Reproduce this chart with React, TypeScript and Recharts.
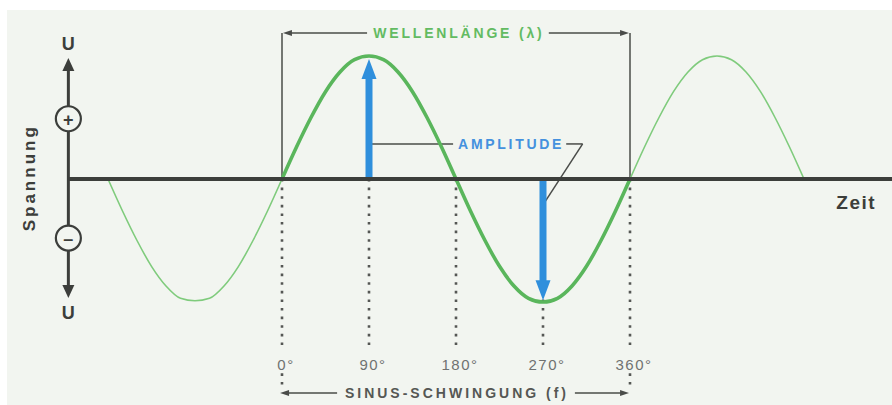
import { LineChart, Line, XAxis, YAxis, ReferenceLine, ReferenceDot } from "recharts";

// angle in degrees, one point every 15°
const angles = [
  -180, -165, -150, -135, -120, -105, -90, -75, -60, -45, -30, -15,
  0, 15, 30, 45, 60, 75, 90, 105, 120, 135, 150, 165,
  180, 195, 210, 225, 240, 255, 270, 285, 300, 315, 330, 345,
  360, 375, 390, 405, 420, 435, 450, 465, 480, 495, 510, 525, 540,
];

// the thick wave: one full period 0°..360°
const mainWave = [
  null, null, null, null, null, null, null, null, null, null, null, null,
  0, 0.26, 0.5, 0.71, 0.87, 0.97, 1, 0.97, 0.87, 0.71, 0.5, 0.26,
  0, -0.26, -0.5, -0.71, -0.87, -0.97, -1, -0.97, -0.87, -0.71, -0.5, -0.26,
  0, null, null, null, null, null, null, null, null, null, null, null, null,
];

// the thin half-waves before and after
const sideWave = [
  0, -0.26, -0.5, -0.71, -0.87, -0.97, -0.99, -0.97, -0.87, -0.71, -0.5, -0.26,
  0, null, null, null, null, null, null, null, null, null, null, null,
  null, null, null, null, null, null, null, null, null, null, null, null,
  0, 0.26, 0.5, 0.71, 0.87, 0.97, 1, 0.97, 0.87, 0.71, 0.5, 0.26, 0,
];

const tickAngles = [0, 90, 180, 270, 360];
const tickLabels = ["0°", "90°", "180°", "270°", "360°"];

const data = angles.map((angle, i) => ({ angle, main: mainWave[i], side: sideWave[i] }));

const FONT = '"Liberation Sans", Arial, sans-serif';
const DARK = "#3c3e3b";
const BLUE = "#2f8fdc";

// line with a filled arrow head at the end (and optionally at the start)
const arrow =
  (color: string, width: number, head: number, headW: number, both = false) =>
  (props: any) => {
    const { x1, y1, x2, y2 } = props;
    const dx = x2 - x1;
    const dy = y2 - y1;
    const len = Math.hypot(dx, dy) || 1;
    const ux = dx / len;
    const uy = dy / len;
    const px = -uy;
    const py = ux;
    const tri = (tx: number, ty: number, dx: number, dy: number) =>
      `${tx},${ty} ${tx - dx * head + (px * headW) / 2},${ty - dy * head + (py * headW) / 2} ${
        tx - dx * head - (px * headW) / 2
      },${ty - dy * head - (py * headW) / 2}`;
    const sx = both ? x1 + ux * head * 0.7 : x1;
    const sy = both ? y1 + uy * head * 0.7 : y1;
    return (
      <g>
        <line x1={sx} y1={sy} x2={x2 - ux * head * 0.7} y2={y2 - uy * head * 0.7} stroke={color} strokeWidth={width} />
        <polygon points={tri(x2, y2, ux, uy)} fill={color} />
        {both && <polygon points={tri(x1, y1, -ux, -uy)} fill={color} />}
      </g>
    );
  };

const text =
  (value: string, color: string, size: number, weight = 700, spacing = 0, rotate = 0) =>
  (p: any) =>
    (
      <text
        x={p.cx}
        y={p.cy}
        textAnchor="middle"
        dominantBaseline="central"
        fill={color}
        fontSize={size}
        fontWeight={weight}
        fontFamily={FONT}
        letterSpacing={spacing}
        transform={rotate ? `rotate(${rotate} ${p.cx} ${p.cy})` : undefined}
      >
        {value}
      </text>
    );

const sign = (s: string) => (p: any) =>
  (
    <g>
      <circle cx={p.cx} cy={p.cy} r={12.5} fill="#f2f5f0" stroke={DARK} strokeWidth={2.2} />
      <text x={p.cx} y={p.cy + 1} textAnchor="middle" dominantBaseline="central" fontSize={18} fontWeight={700} fontFamily={FONT} fill={DARK}>
        {s}
      </text>
    </g>
  );

const seg = (x1: number, y1: number, x2: number, y2: number) => [
  { x: x1, y: y1 },
  { x: x2, y: y2 },
];

const Chart = () => (
  <LineChart width={892} height={405} data={data} margin={{ top: 56, right: 88, bottom: 3, left: 108 }}>
    <XAxis
      dataKey="angle"
      type="number"
      domain={[-180, 540]}
      ticks={tickAngles}
      tickFormatter={(v) => tickLabels[tickAngles.indexOf(v)]}
      axisLine={false}
      tickLine={false}
      height={100}
      tickMargin={51}
      tick={{ fill: "#707270", fontSize: 15, fontFamily: FONT, dx: 4, letterSpacing: 1.5 }}
    />
    <YAxis type="number" domain={[-1, 1]} hide />

    {/* dotted drop lines */}
    {tickAngles.map((a) => (
      <ReferenceLine key={"d" + a} segment={seg(a, 0, a, -1.39)} ifOverflow="visible" stroke="#555754" strokeWidth={2.6} strokeDasharray="2.6 6" />
    ))}
    <ReferenceLine segment={seg(0, -1.58, 0, -1.68)} ifOverflow="visible" stroke="#555754" strokeWidth={2.6} strokeDasharray="2.6 6" />
    <ReferenceLine segment={seg(360, -1.58, 360, -1.68)} ifOverflow="visible" stroke="#555754" strokeWidth={2.6} strokeDasharray="2.6 6" />

    {/* wavelength bracket */}
    <ReferenceLine segment={seg(0, 0, 0, 1.187)} ifOverflow="visible" stroke="#4a4c49" strokeWidth={1.5} />
    <ReferenceLine segment={seg(360, 0, 360, 1.187)} ifOverflow="visible" stroke="#4a4c49" strokeWidth={1.5} />
    <ReferenceLine segment={seg(88, 1.187, 1, 1.187)} ifOverflow="visible" shape={arrow("#4a4c49", 1.5, 9, 6)} />
    <ReferenceLine segment={seg(276, 1.187, 359, 1.187)} ifOverflow="visible" shape={arrow("#4a4c49", 1.5, 9, 6)} />
    <ReferenceDot x={183} y={1.187} ifOverflow="visible" shape={text("WELLENLÄNGE (λ)", "#63bb62", 14, 700, 2.8)} />

    {/* period bracket */}
    <ReferenceLine segment={seg(57, -1.74, -2, -1.74)} ifOverflow="visible" shape={arrow("#4a4c49", 1.5, 9, 6)} />
    <ReferenceLine segment={seg(303, -1.74, 359, -1.74)} ifOverflow="visible" shape={arrow("#4a4c49", 1.5, 9, 6)} />
    <ReferenceDot x={181} y={-1.74} ifOverflow="visible" shape={text("SINUS-SCHWINGUNG (f)", "#555754", 14, 700, 3)} />

    {/* amplitude leaders */}
    <ReferenceLine segment={seg(90, 0.285, 177, 0.285)} ifOverflow="visible" stroke="#4a4c49" strokeWidth={1.5} />
    <ReferenceLine segment={seg(294, 0.285, 311, 0.285)} ifOverflow="visible" stroke="#4a4c49" strokeWidth={1.5} />
    <ReferenceLine segment={seg(311, 0.285, 270, -0.21)} ifOverflow="visible" stroke="#4a4c49" strokeWidth={1.5} />
    <ReferenceDot x={237} y={0.285} ifOverflow="visible" shape={text("AMPLITUDE", "#4591de", 14, 700, 2.7)} />

    {/* waves */}
    <Line dataKey="side" type="monotone" stroke="#7fcb7c" strokeWidth={1.6} dot={false} isAnimationActive={false} />
    <Line dataKey="main" type="monotone" stroke="#5ab65c" strokeWidth={3.6} dot={false} isAnimationActive={false} />

    {/* amplitude arrows */}
    <ReferenceLine segment={seg(90, 0, 90, 0.975)} ifOverflow="visible" shape={arrow(BLUE, 7, 20, 15)} />
    <ReferenceLine segment={seg(270, 0, 270, -0.985)} ifOverflow="visible" shape={arrow(BLUE, 7, 20, 15)} />

    {/* axes */}
    <ReferenceLine segment={seg(-221, 0, 640, 0)} ifOverflow="visible" stroke={DARK} strokeWidth={4} />
    <ReferenceLine segment={seg(-221, -0.967, -221, 0.984)} ifOverflow="visible" shape={arrow(DARK, 3, 13, 12, true)} />
    <ReferenceDot x={-221} y={0.49} ifOverflow="visible" shape={sign("+")} />
    <ReferenceDot x={-221} y={-0.48} ifOverflow="visible" shape={sign("–")} />
    <ReferenceDot x={-221} y={1.1} ifOverflow="visible" shape={text("U", DARK, 18)} />
    <ReferenceDot x={-221} y={-1.09} ifOverflow="visible" shape={text("U", DARK, 18)} />
    <ReferenceDot x={-261} y={0.01} ifOverflow="visible" shape={text("Spannung", DARK, 17, 700, 3, -90)} />
    <ReferenceDot x={594} y={-0.19} ifOverflow="visible" shape={text("Zeit", DARK, 19, 700, 1.5)} />
  </LineChart>
);

export default function App() {
  return (
    <div style={{ position: "absolute", left: 0, top: 0, width: 892, height: 405, background: "#ffffff" }}>
      <div style={{ position: "absolute", left: 7, top: 10, width: 885, height: 395, background: "#f2f5f0" }} />
      <div style={{ position: "absolute", left: 0, top: 0 }}>
        <Chart />
      </div>
    </div>
  );
}
